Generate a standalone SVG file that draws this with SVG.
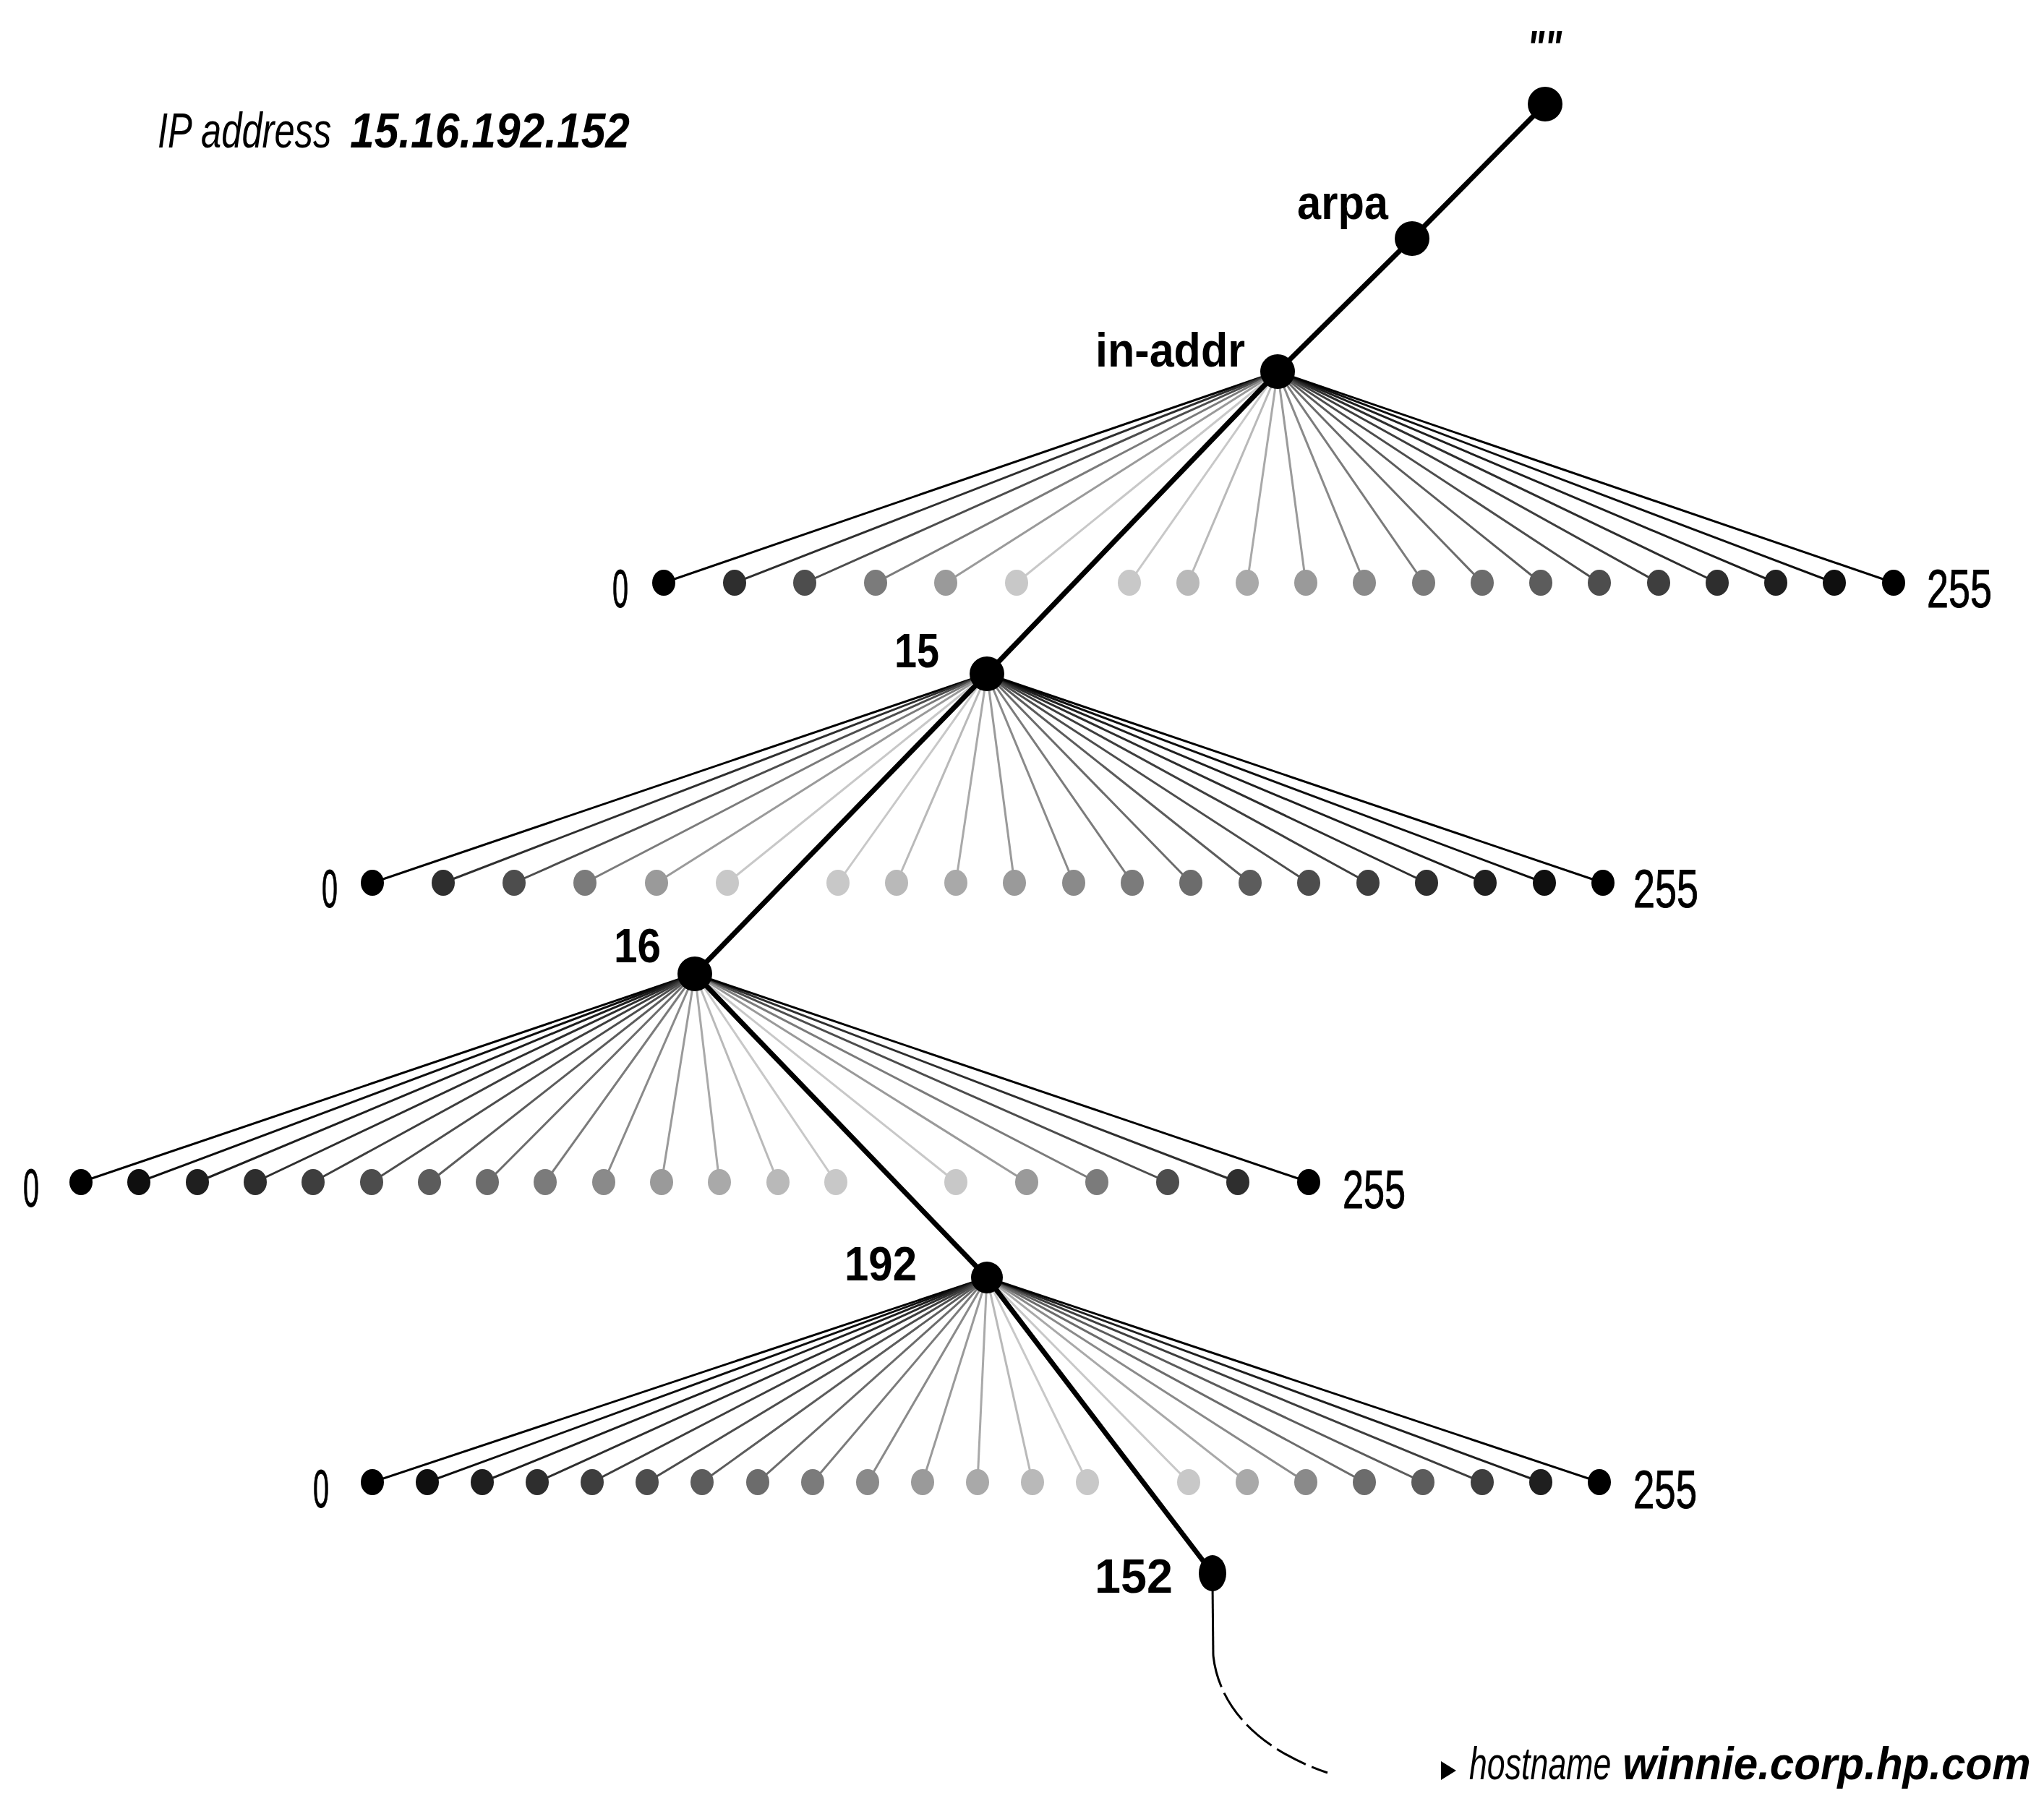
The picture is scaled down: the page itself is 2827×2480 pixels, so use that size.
<svg xmlns="http://www.w3.org/2000/svg" width="2827" height="2480" viewBox="0 0 2827 2480">
<style>
text{font-family:"Liberation Sans",Arial,sans-serif;fill:#000}
.lbl{font-size:66px;font-weight:bold}
.num{font-size:75px}
.it{font-style:italic}
.bd{font-weight:bold}
.fan path{fill:none;stroke-width:3}
.trunk{fill:none;stroke:#000;stroke-width:7;stroke-linejoin:round}
.lead{fill:none;stroke:#000;stroke-width:3}
ellipse,circle{stroke:none}
.big{fill:#000}
.k0{fill:#000;stroke:#000}.k1{fill:#0f0f0f;stroke:#0f0f0f}.k2{fill:#1f1f1f;stroke:#1f1f1f}.k3{fill:#2e2e2e;stroke:#2e2e2e}
.k4{fill:#3e3e3e;stroke:#3e3e3e}.k5{fill:#4d4d4d;stroke:#4d4d4d}.k6{fill:#5c5c5c;stroke:#5c5c5c}.k7{fill:#6c6c6c;stroke:#6c6c6c}
.k8{fill:#7b7b7b;stroke:#7b7b7b}.k9{fill:#8a8a8a;stroke:#8a8a8a}.k10{fill:#9a9a9a;stroke:#9a9a9a}.k11{fill:#a9a9a9;stroke:#a9a9a9}
.k12{fill:#b9b9b9;stroke:#b9b9b9}.k13{fill:#c8c8c8;stroke:#c8c8c8}
</style>
<rect width="2827" height="2480" fill="#fff"/>
<g id="title">
<text class="it" transform="translate(218,204) scale(0.745,1)" font-size="68">IP address</text>
<text class="it bd" transform="translate(484,204) scale(0.89,1)" font-size="68">15.16.192.152</text>
</g>
<g id="connectors">
<g class="fan" id="fan1">
<path class="k0" d="M1767 514L918 806"/><path class="k3" d="M1767 514L1016 806"/><path class="k5" d="M1767 514L1113 806"/><path class="k8" d="M1767 514L1211 806"/><path class="k10" d="M1767 514L1308 806"/><path class="k13" d="M1767 514L1406 806"/><path class="k13" d="M1767 514L1562 806"/><path class="k12" d="M1767 514L1643 806"/><path class="k11" d="M1767 514L1725 806"/><path class="k10" d="M1767 514L1806 806"/><path class="k9" d="M1767 514L1887 806"/><path class="k8" d="M1767 514L1969 806"/><path class="k7" d="M1767 514L2050 806"/><path class="k6" d="M1767 514L2131 806"/><path class="k5" d="M1767 514L2212 806"/><path class="k4" d="M1767 514L2294 806"/><path class="k3" d="M1767 514L2375 806"/><path class="k2" d="M1767 514L2456 806"/><path class="k1" d="M1767 514L2537 806"/><path class="k0" d="M1767 514L2619 806"/>
</g>
<g class="fan" id="fan2">
<path class="k0" d="M1365 932L515 1221"/><path class="k3" d="M1365 932L613 1221"/><path class="k5" d="M1365 932L711 1221"/><path class="k8" d="M1365 932L809 1221"/><path class="k10" d="M1365 932L908 1221"/><path class="k13" d="M1365 932L1006 1221"/><path class="k13" d="M1365 932L1159 1221"/><path class="k12" d="M1365 932L1240 1221"/><path class="k11" d="M1365 932L1322 1221"/><path class="k10" d="M1365 932L1403 1221"/><path class="k9" d="M1365 932L1485 1221"/><path class="k8" d="M1365 932L1566 1221"/><path class="k7" d="M1365 932L1647 1221"/><path class="k6" d="M1365 932L1729 1221"/><path class="k5" d="M1365 932L1810 1221"/><path class="k4" d="M1365 932L1892 1221"/><path class="k3" d="M1365 932L1973 1221"/><path class="k2" d="M1365 932L2054 1221"/><path class="k1" d="M1365 932L2136 1221"/><path class="k0" d="M1365 932L2217 1221"/>
</g>
<g class="fan" id="fan3">
<path class="k0" d="M961 1347L112 1635"/><path class="k1" d="M961 1347L192 1635"/><path class="k2" d="M961 1347L273 1635"/><path class="k3" d="M961 1347L353 1635"/><path class="k4" d="M961 1347L433 1635"/><path class="k5" d="M961 1347L514 1635"/><path class="k6" d="M961 1347L594 1635"/><path class="k7" d="M961 1347L674 1635"/><path class="k8" d="M961 1347L754 1635"/><path class="k9" d="M961 1347L835 1635"/><path class="k10" d="M961 1347L915 1635"/><path class="k11" d="M961 1347L995 1635"/><path class="k12" d="M961 1347L1076 1635"/><path class="k13" d="M961 1347L1156 1635"/><path class="k13" d="M961 1347L1322 1635"/><path class="k10" d="M961 1347L1420 1635"/><path class="k8" d="M961 1347L1517 1635"/><path class="k5" d="M961 1347L1615 1635"/><path class="k3" d="M961 1347L1712 1635"/><path class="k0" d="M961 1347L1810 1635"/>
</g>
<g class="fan" id="fan4">
<path class="k0" d="M1365 1767L515 2050"/><path class="k1" d="M1365 1767L591 2050"/><path class="k2" d="M1365 1767L667 2050"/><path class="k3" d="M1365 1767L743 2050"/><path class="k4" d="M1365 1767L819 2050"/><path class="k5" d="M1365 1767L895 2050"/><path class="k6" d="M1365 1767L971 2050"/><path class="k7" d="M1365 1767L1048 2050"/><path class="k8" d="M1365 1767L1124 2050"/><path class="k9" d="M1365 1767L1200 2050"/><path class="k10" d="M1365 1767L1276 2050"/><path class="k11" d="M1365 1767L1352 2050"/><path class="k12" d="M1365 1767L1428 2050"/><path class="k13" d="M1365 1767L1504 2050"/><path class="k13" d="M1365 1767L1644 2050"/><path class="k11" d="M1365 1767L1725 2050"/><path class="k9" d="M1365 1767L1806 2050"/><path class="k7" d="M1365 1767L1887 2050"/><path class="k6" d="M1365 1767L1968 2050"/><path class="k4" d="M1365 1767L2050 2050"/><path class="k2" d="M1365 1767L2131 2050"/><path class="k0" d="M1365 1767L2212 2050"/>
</g>
<path class="trunk" d="M2137 144L1953 330L1767 514L1365 932L961 1347L1365 1767L1677 2176"/>
<path class="lead" d="M1677 2190L1678 2290"/>
<path class="lead" d="M1678 2290C1686 2362 1742 2420 1836 2452" stroke-dasharray="45 9"/>
</g>
<g id="row1">
<g id="n1-00" class="k0"><ellipse cx="918" cy="806" rx="16" ry="18"/><text class="num" x="847" y="840" textLength="22" lengthAdjust="spacingAndGlyphs">0</text></g>
<g id="n1-01" class="k3"><ellipse cx="1016" cy="806" rx="16" ry="18"/></g>
<g id="n1-02" class="k5"><ellipse cx="1113" cy="806" rx="16" ry="18"/></g>
<g id="n1-03" class="k8"><ellipse cx="1211" cy="806" rx="16" ry="18"/></g>
<g id="n1-04" class="k10"><ellipse cx="1308" cy="806" rx="16" ry="18"/></g>
<g id="n1-05" class="k13"><ellipse cx="1406" cy="806" rx="16" ry="18"/></g>
<g id="n1-06" class="k13"><ellipse cx="1562" cy="806" rx="16" ry="18"/></g>
<g id="n1-07" class="k12"><ellipse cx="1643" cy="806" rx="16" ry="18"/></g>
<g id="n1-08" class="k11"><ellipse cx="1725" cy="806" rx="16" ry="18"/></g>
<g id="n1-09" class="k10"><ellipse cx="1806" cy="806" rx="16" ry="18"/></g>
<g id="n1-10" class="k9"><ellipse cx="1887" cy="806" rx="16" ry="18"/></g>
<g id="n1-11" class="k8"><ellipse cx="1969" cy="806" rx="16" ry="18"/></g>
<g id="n1-12" class="k7"><ellipse cx="2050" cy="806" rx="16" ry="18"/></g>
<g id="n1-13" class="k6"><ellipse cx="2131" cy="806" rx="16" ry="18"/></g>
<g id="n1-14" class="k5"><ellipse cx="2212" cy="806" rx="16" ry="18"/></g>
<g id="n1-15" class="k4"><ellipse cx="2294" cy="806" rx="16" ry="18"/></g>
<g id="n1-16" class="k3"><ellipse cx="2375" cy="806" rx="16" ry="18"/></g>
<g id="n1-17" class="k2"><ellipse cx="2456" cy="806" rx="16" ry="18"/></g>
<g id="n1-18" class="k1"><ellipse cx="2537" cy="806" rx="16" ry="18"/></g>
<g id="n1-19" class="k0"><ellipse cx="2619" cy="806" rx="16" ry="18"/><text class="num" x="2665" y="840" textLength="90" lengthAdjust="spacingAndGlyphs">255</text></g>
</g>
<g id="row2">
<g id="n2-00" class="k0"><ellipse cx="515" cy="1221" rx="16" ry="18"/><text class="num" x="445" y="1255" textLength="22" lengthAdjust="spacingAndGlyphs">0</text></g>
<g id="n2-01" class="k3"><ellipse cx="613" cy="1221" rx="16" ry="18"/></g>
<g id="n2-02" class="k5"><ellipse cx="711" cy="1221" rx="16" ry="18"/></g>
<g id="n2-03" class="k8"><ellipse cx="809" cy="1221" rx="16" ry="18"/></g>
<g id="n2-04" class="k10"><ellipse cx="908" cy="1221" rx="16" ry="18"/></g>
<g id="n2-05" class="k13"><ellipse cx="1006" cy="1221" rx="16" ry="18"/></g>
<g id="n2-06" class="k13"><ellipse cx="1159" cy="1221" rx="16" ry="18"/></g>
<g id="n2-07" class="k12"><ellipse cx="1240" cy="1221" rx="16" ry="18"/></g>
<g id="n2-08" class="k11"><ellipse cx="1322" cy="1221" rx="16" ry="18"/></g>
<g id="n2-09" class="k10"><ellipse cx="1403" cy="1221" rx="16" ry="18"/></g>
<g id="n2-10" class="k9"><ellipse cx="1485" cy="1221" rx="16" ry="18"/></g>
<g id="n2-11" class="k8"><ellipse cx="1566" cy="1221" rx="16" ry="18"/></g>
<g id="n2-12" class="k7"><ellipse cx="1647" cy="1221" rx="16" ry="18"/></g>
<g id="n2-13" class="k6"><ellipse cx="1729" cy="1221" rx="16" ry="18"/></g>
<g id="n2-14" class="k5"><ellipse cx="1810" cy="1221" rx="16" ry="18"/></g>
<g id="n2-15" class="k4"><ellipse cx="1892" cy="1221" rx="16" ry="18"/></g>
<g id="n2-16" class="k3"><ellipse cx="1973" cy="1221" rx="16" ry="18"/></g>
<g id="n2-17" class="k2"><ellipse cx="2054" cy="1221" rx="16" ry="18"/></g>
<g id="n2-18" class="k1"><ellipse cx="2136" cy="1221" rx="16" ry="18"/></g>
<g id="n2-19" class="k0"><ellipse cx="2217" cy="1221" rx="16" ry="18"/><text class="num" x="2259" y="1255" textLength="90" lengthAdjust="spacingAndGlyphs">255</text></g>
</g>
<g id="row3">
<g id="n3-00" class="k0"><ellipse cx="112" cy="1635" rx="16" ry="18"/><text class="num" x="32" y="1669" textLength="22" lengthAdjust="spacingAndGlyphs">0</text></g>
<g id="n3-01" class="k1"><ellipse cx="192" cy="1635" rx="16" ry="18"/></g>
<g id="n3-02" class="k2"><ellipse cx="273" cy="1635" rx="16" ry="18"/></g>
<g id="n3-03" class="k3"><ellipse cx="353" cy="1635" rx="16" ry="18"/></g>
<g id="n3-04" class="k4"><ellipse cx="433" cy="1635" rx="16" ry="18"/></g>
<g id="n3-05" class="k5"><ellipse cx="514" cy="1635" rx="16" ry="18"/></g>
<g id="n3-06" class="k6"><ellipse cx="594" cy="1635" rx="16" ry="18"/></g>
<g id="n3-07" class="k7"><ellipse cx="674" cy="1635" rx="16" ry="18"/></g>
<g id="n3-08" class="k8"><ellipse cx="754" cy="1635" rx="16" ry="18"/></g>
<g id="n3-09" class="k9"><ellipse cx="835" cy="1635" rx="16" ry="18"/></g>
<g id="n3-10" class="k10"><ellipse cx="915" cy="1635" rx="16" ry="18"/></g>
<g id="n3-11" class="k11"><ellipse cx="995" cy="1635" rx="16" ry="18"/></g>
<g id="n3-12" class="k12"><ellipse cx="1076" cy="1635" rx="16" ry="18"/></g>
<g id="n3-13" class="k13"><ellipse cx="1156" cy="1635" rx="16" ry="18"/></g>
<g id="n3-14" class="k13"><ellipse cx="1322" cy="1635" rx="16" ry="18"/></g>
<g id="n3-15" class="k10"><ellipse cx="1420" cy="1635" rx="16" ry="18"/></g>
<g id="n3-16" class="k8"><ellipse cx="1517" cy="1635" rx="16" ry="18"/></g>
<g id="n3-17" class="k5"><ellipse cx="1615" cy="1635" rx="16" ry="18"/></g>
<g id="n3-18" class="k3"><ellipse cx="1712" cy="1635" rx="16" ry="18"/></g>
<g id="n3-19" class="k0"><ellipse cx="1810" cy="1635" rx="16" ry="18"/><text class="num" x="1857" y="1671" textLength="87" lengthAdjust="spacingAndGlyphs">255</text></g>
</g>
<g id="row4">
<g id="n4-00" class="k0"><ellipse cx="515" cy="2050" rx="16" ry="18"/><text class="num" x="433" y="2085" textLength="22" lengthAdjust="spacingAndGlyphs">0</text></g>
<g id="n4-01" class="k1"><ellipse cx="591" cy="2050" rx="16" ry="18"/></g>
<g id="n4-02" class="k2"><ellipse cx="667" cy="2050" rx="16" ry="18"/></g>
<g id="n4-03" class="k3"><ellipse cx="743" cy="2050" rx="16" ry="18"/></g>
<g id="n4-04" class="k4"><ellipse cx="819" cy="2050" rx="16" ry="18"/></g>
<g id="n4-05" class="k5"><ellipse cx="895" cy="2050" rx="16" ry="18"/></g>
<g id="n4-06" class="k6"><ellipse cx="971" cy="2050" rx="16" ry="18"/></g>
<g id="n4-07" class="k7"><ellipse cx="1048" cy="2050" rx="16" ry="18"/></g>
<g id="n4-08" class="k8"><ellipse cx="1124" cy="2050" rx="16" ry="18"/></g>
<g id="n4-09" class="k9"><ellipse cx="1200" cy="2050" rx="16" ry="18"/></g>
<g id="n4-10" class="k10"><ellipse cx="1276" cy="2050" rx="16" ry="18"/></g>
<g id="n4-11" class="k11"><ellipse cx="1352" cy="2050" rx="16" ry="18"/></g>
<g id="n4-12" class="k12"><ellipse cx="1428" cy="2050" rx="16" ry="18"/></g>
<g id="n4-13" class="k13"><ellipse cx="1504" cy="2050" rx="16" ry="18"/></g>
<g id="n4-14" class="k13"><ellipse cx="1644" cy="2050" rx="16" ry="18"/></g>
<g id="n4-15" class="k11"><ellipse cx="1725" cy="2050" rx="16" ry="18"/></g>
<g id="n4-16" class="k9"><ellipse cx="1806" cy="2050" rx="16" ry="18"/></g>
<g id="n4-17" class="k7"><ellipse cx="1887" cy="2050" rx="16" ry="18"/></g>
<g id="n4-18" class="k6"><ellipse cx="1968" cy="2050" rx="16" ry="18"/></g>
<g id="n4-19" class="k4"><ellipse cx="2050" cy="2050" rx="16" ry="18"/></g>
<g id="n4-20" class="k2"><ellipse cx="2131" cy="2050" rx="16" ry="18"/></g>
<g id="n4-21" class="k0"><ellipse cx="2212" cy="2050" rx="16" ry="18"/><text class="num" x="2259" y="2086" textLength="88" lengthAdjust="spacingAndGlyphs">255</text></g>
</g>
<g id="node-root"><circle class="big" cx="2137" cy="144" r="24"/><text class="lbl it" x="2112" y="89" textLength="48" lengthAdjust="spacingAndGlyphs">""</text></g>
<g id="node-arpa"><circle class="big" cx="1953" cy="330" r="24"/><text class="lbl" x="1794" y="303" textLength="126" lengthAdjust="spacingAndGlyphs">arpa</text></g>
<g id="node-in-addr"><circle class="big" cx="1767" cy="514" r="24"/><text class="lbl" x="1515" y="507" textLength="207" lengthAdjust="spacingAndGlyphs">in-addr</text></g>
<g id="node-15"><circle class="big" cx="1365" cy="932" r="24"/><text class="lbl" x="1237" y="923" textLength="62" lengthAdjust="spacingAndGlyphs">15</text></g>
<g id="node-16"><circle class="big" cx="961" cy="1347" r="24"/><text class="lbl" x="849" y="1331" textLength="65" lengthAdjust="spacingAndGlyphs">16</text></g>
<g id="node-192"><circle class="big" cx="1365" cy="1767" r="22"/><text class="lbl" x="1168" y="1771" textLength="100" lengthAdjust="spacingAndGlyphs">192</text></g>
<g id="node-152"><ellipse class="big" cx="1677" cy="2176" rx="19" ry="25"/><text class="lbl" x="1514" y="2203" textLength="108" lengthAdjust="spacingAndGlyphs">152</text></g>
<g id="hostname">
<polygon points="1993,2436 2014,2449 1993,2462" fill="#000"/>
<text class="it" transform="translate(2032,2461) scale(0.71,1)" font-size="63">hostname</text>
<text class="it bd" transform="translate(2244,2461) scale(0.955,1)" font-size="63">winnie.corp.hp.com</text>
</g>
</svg>
